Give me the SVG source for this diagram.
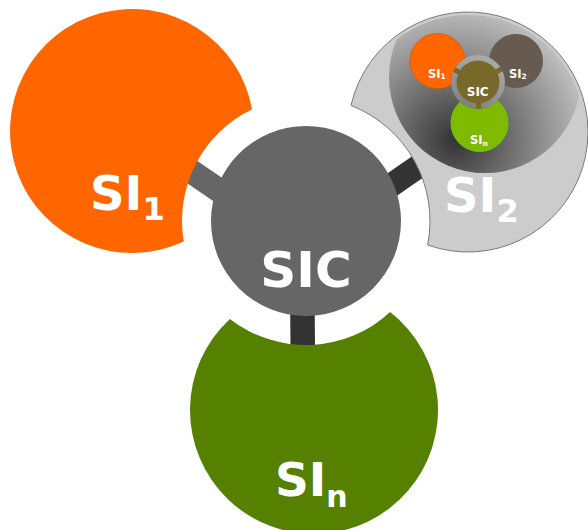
<svg xmlns="http://www.w3.org/2000/svg" width="588" height="530" viewBox="0 0 588 530">
<style>
.lbl{font-family:"DejaVu Sans","Liberation Sans",sans-serif;font-weight:bold;fill:#fff}
.bar{stroke-linecap:butt;fill:none}
</style>
<defs>
<radialGradient id="gInset" gradientUnits="userSpaceOnUse" cx="455" cy="140" r="150">
<stop offset="0" stop-color="#333"/>
<stop offset="1" stop-color="#d0d0d0"/>
</radialGradient>
<clipPath id="cOuter"><circle cx="468" cy="132" r="117"/></clipPath>
<mask id="mInner" maskUnits="userSpaceOnUse" x="380" y="0" width="208" height="180">
<rect x="380" y="0" width="208" height="180" fill="#fff"/>
<circle cx="478" cy="82" r="27" fill="#000"/>
</mask>
</defs>
<g id="connectors">
<line class="bar" x1="302" y1="247" x2="132" y2="131" stroke="#666" stroke-width="24"/>
<line class="bar" x1="302" y1="247" x2="468" y2="132" stroke="#333" stroke-width="24"/>
<line class="bar" x1="302" y1="247" x2="303" y2="380" stroke="#333" stroke-width="24.5"/>
</g>
<g id="node-si1">
<path d="M252.06,109.34 A122,122 0 1 0 183.7,241.5 A124,124 0 0 1 252.06,109.34 Z" fill="#ff6600"/>
<text class="lbl" x="90" y="210" font-size="48">SI<tspan font-size="32" dy="10">1</tspan></text>
</g>
<g id="node-si2">
<path d="M350.98,105.45 A120,120 0 1 1 427.66,245.01 A124,124 0 0 0 350.98,105.45 Z" fill="#cccccc" stroke="#7a7a7a" stroke-width="1"/>
<g id="inset" clip-path="url(#cOuter)">
<circle cx="485" cy="77" r="96" fill="url(#gInset)"/>
</g>
<text class="lbl" x="444" y="211.7" font-size="48" fill="#f4f4f4">SI<tspan font-size="32" dy="10">2</tspan></text>
<g id="inset-diagram">
<circle cx="478" cy="82" r="27" fill="#fff" fill-opacity="0.24"/>
<g id="inset-connectors" stroke="#77692a" stroke-width="5">
<line x1="478" y1="82" x2="437.5" y2="61"/>
<line x1="478" y1="82" x2="516" y2="61"/>
<line x1="478" y1="82" x2="479" y2="123"/>
</g>
<g mask="url(#mInner)">
<g id="inset-si1"><circle cx="437.5" cy="61" r="27.5" fill="#ff6600" stroke="#d95700" stroke-width="0.8"/></g>
<g id="inset-si2"><circle cx="516" cy="61" r="27" fill="#675a50"/></g>
<g id="inset-sin"><circle cx="479.5" cy="123" r="28.5" fill="#7fb900" stroke="#5fd300" stroke-width="1"/></g>
</g>
<g id="inset-sic"><circle cx="478" cy="82" r="21.5" fill="#77692a"/></g>
<text class="lbl" x="428" y="77.7" font-size="11.5">SI<tspan font-size="7.5" dy="1.5">1</tspan></text>
<text class="lbl" x="509" y="77.7" font-size="11.5">SI<tspan font-size="7.5" dy="1.5">2</tspan></text>
<text class="lbl" x="477.7" y="96.3" font-size="12" text-anchor="middle">SIC</text>
<text class="lbl" x="470" y="144.3" font-size="11.5">SI<tspan font-size="7.5" dy="2">n</tspan></text>
</g>
</g>
<g id="node-sin">
<path d="M390.12,312.1 A124,124 0 1 1 229.88,318.9 A124,124 0 0 0 390.12,312.1 Z" fill="#558000"/>
<text class="lbl" x="275" y="496" font-size="47">SI<tspan font-size="30" dy="10.7">n</tspan></text>
</g>
<g id="node-sic">
<circle cx="306" cy="221" r="95" fill="#666666"/>
<text class="lbl" x="306" y="286.7" font-size="50" text-anchor="middle">SIC</text>
</g>
</svg>
